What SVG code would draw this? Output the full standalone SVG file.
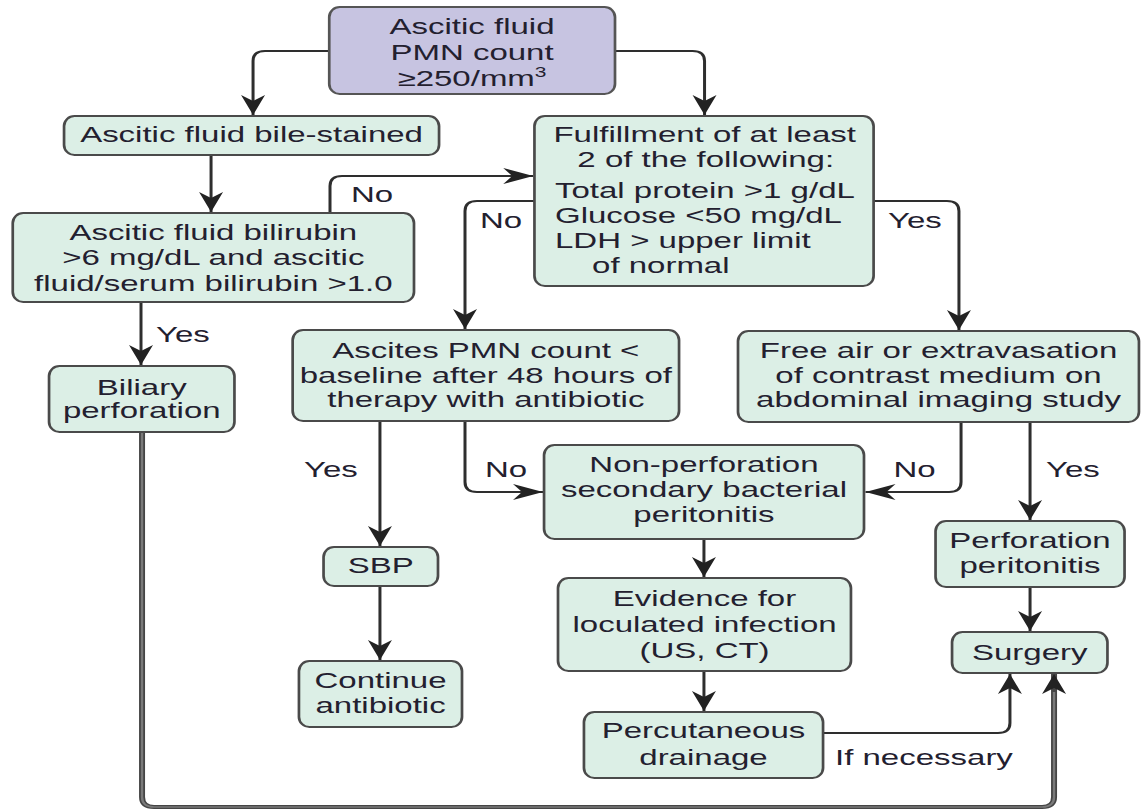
<svg xmlns="http://www.w3.org/2000/svg" width="1142" height="812" viewBox="0 0 1142 812">
<style>
.box{fill:#dcefe6;stroke:#4a4a4a;stroke-width:1.8}
.top{fill:#c7c4e1;stroke:#555;stroke-width:1.8}
text{font-family:"Liberation Sans",Arial,sans-serif;font-size:22px;fill:#23202f}
.c{text-anchor:middle}
.con{fill:none;stroke:#2e2e2e;stroke-width:2;marker-end:url(#ah)}
.thick{fill:none;stroke:#454545;stroke-width:4;marker-end:url(#ah)}
.inner{fill:none;stroke:#7a7a7a;stroke-width:1.6}
</style>
<defs>
<marker id="ah" markerUnits="userSpaceOnUse" markerWidth="22" markerHeight="18" viewBox="-21 -9 22 18" refX="0" refY="0" orient="auto" overflow="visible">
<path d="M0,0 L-20,-8 L-14,0 L-20,8 Z" fill="#222"/>
</marker>
</defs>
<rect width="1142" height="812" fill="#fff"/>
<g transform="scale(1.5,1)">
<g id="connectors">
<path class="con" d="M219.5 51 H176.7 Q168.7 51 168.7 61 V115"/>
<path class="con" d="M410 51 H461.7 Q469.7 51 469.7 61 V115"/>
<path class="con" d="M140.7 155 V212"/>
<path class="con" d="M220 213 V186 Q220 176 228 176 H355.5"/>
<path class="con" d="M356.3 201 H318 Q310 201 310 211 V329"/>
<path class="con" d="M582.4 201 H631.3 Q639.3 201 639.3 211 V330"/>
<path class="con" d="M94 302 V365"/>
<path class="con" d="M253.3 421 V546"/>
<path class="con" d="M310 421 V482 Q310 492 318 492 H362"/>
<path class="con" d="M640.7 422 V482 Q640.7 492 632.7 492 H577"/>
<path class="con" d="M686.7 422 V520"/>
<path class="con" d="M686.7 587 V631"/>
<path class="con" d="M469.3 539 V577"/>
<path class="con" d="M469.3 671 V711"/>
<path class="con" d="M548.7 733 H665.3 Q673.3 733 673.3 723 V674"/>
<path class="con" d="M253.3 586 V660"/>
<path class="thick" d="M94.7 432 V797 Q94.7 807 102.7 807 H694.7 Q702.7 807 702.7 797 V674"/>
<path class="inner" d="M94.7 433 V797 Q94.7 807 102.7 807 H694.7 Q702.7 807 702.7 797 V692"/>
<text x="234" y="202">No</text>
<text x="320" y="228">No</text>
<text x="592" y="228">Yes</text>
<text x="104" y="342">Yes</text>
<text x="202.7" y="477">Yes</text>
<text x="323.3" y="477">No</text>
<text x="595.7" y="477">No</text>
<text x="697.3" y="477">Yes</text>
<text x="556.7" y="765">If necessary</text>
</g>
<g id="n-top">
<rect class="top" x="219.5" y="7" width="190.5" height="87" rx="7" ry="10"/>
<text class="c" x="314.7" y="34">Ascitic fluid</text>
<text class="c" x="314.7" y="60">PMN count</text>
<text class="c" x="314.7" y="86">≥250/mm<tspan dy="-9" font-size="14">3</tspan></text>
</g>
<g id="n-bile">
<rect class="box" x="42.7" y="116" width="250" height="39" rx="7" ry="10"/>
<text class="c" x="167.7" y="142">Ascitic fluid bile-stained</text>
</g>
<g id="n-fulfill">
<rect class="box" x="356.3" y="116" width="226.1" height="170" rx="7" ry="10"/>
<text class="c" x="469.8" y="142">Fulfillment of at least</text>
<text class="c" x="470.5" y="167">2 of the following:</text>
<text x="370" y="198">Total protein &gt;1 g/dL</text>
<text x="370" y="223">Glucose &lt;50 mg/dL</text>
<text x="370" y="248">LDH &gt; upper limit</text>
<text x="394.7" y="273">of normal</text>
</g>
<g id="n-bilirubin">
<rect class="box" x="8.5" y="213" width="267.5" height="89" rx="7" ry="10"/>
<text class="c" x="142.2" y="240">Ascitic fluid bilirubin</text>
<text class="c" x="142.2" y="265">&gt;6 mg/dL and ascitic</text>
<text class="c" x="142.2" y="291">fluid/serum bilirubin &gt;1.0</text>
</g>
<g id="n-biliary">
<rect class="box" x="32.7" y="366" width="123.6" height="66" rx="7" ry="10"/>
<text class="c" x="94.5" y="395">Biliary</text>
<text class="c" x="94.5" y="418">perforation</text>
</g>
<g id="n-ascites">
<rect class="box" x="195.1" y="330" width="257.6" height="91" rx="7" ry="10"/>
<text class="c" x="323.9" y="358">Ascites PMN count &lt;</text>
<text class="c" x="323.9" y="383">baseline after 48 hours of</text>
<text class="c" x="323.9" y="407">therapy with antibiotic</text>
</g>
<g id="n-freeair">
<rect class="box" x="492" y="331" width="267.3" height="91" rx="7" ry="10"/>
<text class="c" x="625.7" y="358">Free air or extravasation</text>
<text class="c" x="625.7" y="383">of contrast medium on</text>
<text class="c" x="625.7" y="407">abdominal imaging study</text>
</g>
<g id="n-nonperf">
<rect class="box" x="362.7" y="445" width="213.3" height="94" rx="7" ry="10"/>
<text class="c" x="469.3" y="472">Non-perforation</text>
<text class="c" x="469.3" y="497">secondary bacterial</text>
<text class="c" x="469.3" y="522">peritonitis</text>
</g>
<g id="n-perf">
<rect class="box" x="623.7" y="521" width="126" height="66" rx="7" ry="10"/>
<text class="c" x="686.7" y="548">Perforation</text>
<text class="c" x="686.7" y="573">peritonitis</text>
</g>
<g id="n-surgery">
<rect class="box" x="634.7" y="632" width="103.6" height="41" rx="7" ry="10"/>
<text class="c" x="686.5" y="660">Surgery</text>
</g>
<g id="n-evidence">
<rect class="box" x="372" y="578" width="195.3" height="93" rx="7" ry="10"/>
<text class="c" x="469.7" y="606">Evidence for</text>
<text class="c" x="469.7" y="632">loculated infection</text>
<text class="c" x="469.7" y="658">(US, CT)</text>
</g>
<g id="n-percut">
<rect class="box" x="389.3" y="712" width="159.4" height="66" rx="7" ry="10"/>
<text class="c" x="469" y="738">Percutaneous</text>
<text class="c" x="469" y="765">drainage</text>
</g>
<g id="n-sbp">
<rect class="box" x="215.7" y="547" width="76.3" height="39" rx="7" ry="10"/>
<text class="c" x="253.9" y="573">SBP</text>
</g>
<g id="n-continue">
<rect class="box" x="199.3" y="661" width="108.7" height="66" rx="7" ry="10"/>
<text class="c" x="253.7" y="688">Continue</text>
<text class="c" x="253.7" y="713">antibiotic</text>
</g>
</g>
</svg>
